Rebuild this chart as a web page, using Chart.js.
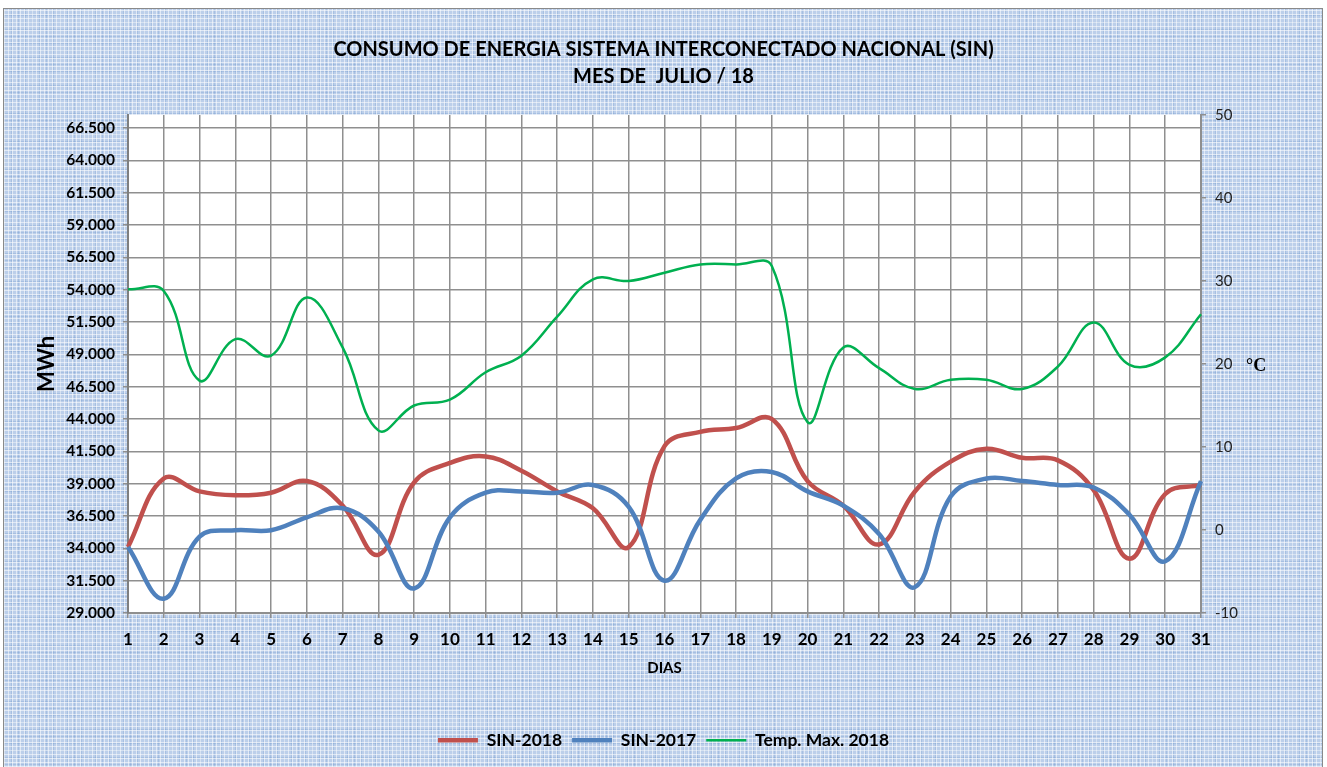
<!DOCTYPE html>
<html>
<head>
<meta charset="utf-8">
<script src="https://cdn.jsdelivr.net/npm/chart.js@4/dist/chart.umd.min.js"></script>
<style>
  html, body { margin:0; padding:0; background:#ffffff; }
  #frame {
    position:absolute; left:3px; top:8px; width:1318px; height:770px;
    border:1px solid #8a8a8a;
    background-color:#bccfea;
    background-image:
      repeating-linear-gradient(90deg, rgba(255,255,255,0.55) 0px, rgba(255,255,255,0.55) 1px, rgba(255,255,255,0) 1px, rgba(255,255,255,0) 4px),
      repeating-linear-gradient(0deg, rgba(255,255,255,0.55) 0px, rgba(255,255,255,0.55) 1px, rgba(255,255,255,0) 1px, rgba(255,255,255,0) 4px),
      repeating-linear-gradient(90deg, rgba(90,135,195,0.22) 0px, rgba(90,135,195,0.22) 1px, rgba(0,0,0,0) 1px, rgba(0,0,0,0) 7px),
      repeating-linear-gradient(0deg, rgba(90,135,195,0.22) 0px, rgba(90,135,195,0.22) 1px, rgba(0,0,0,0) 1px, rgba(0,0,0,0) 7px);
  }
  #wrap { position:absolute; left:0; top:0; width:1327px; height:767px; }
</style>
</head>
<body>
<div id="frame"></div>
<div id="wrap"><canvas id="c" width="1327" height="767"></canvas></div>
<script>
// ---- data ----
const days = ['1','2','3','4','5','6','7','8','9','10','11','12','13','14','15','16','17','18','19','20','21','22','23','24','25','26','27','28','29','30','31'];
const sin2018 = [34100, 39400, 38400, 38100, 38300, 39200, 37300, 33500, 39100, 40600, 41100, 40000, 38400, 37100, 34100, 41900, 43000, 43300, 44000, 39200, 37300, 34300, 38400, 40700, 41700, 41000, 40800, 38500, 33200, 38200, 38900];
const sin2017 = [34100, 30100, 34900, 35400, 35400, 36400, 37100, 35300, 30900, 36400, 38300, 38400, 38300, 38900, 37200, 31500, 36200, 39400, 39900, 38400, 37300, 35100, 31000, 38000, 39400, 39200, 38900, 38700, 36600, 33000, 39200];
const tempMax2018 = [29, 28.8, 18, 23, 21, 28, 22, 12, 15, 15.7, 19, 21, 25.7, 30.2, 30, 31, 32, 32, 31.8, 13, 22, 19.5, 17, 18.1, 18.1, 17, 19.7, 25, 19.9, 20.8, 26];
const mwhTicks = [29000, 31500, 34000, 36500, 39000, 41500, 44000, 46500, 49000, 51500, 54000, 56500, 59000, 61500, 64000, 66500];
const tempTicks = [-10, 0, 10, 20, 30, 40, 50];
const titleLines = ['CONSUMO DE ENERGIA SISTEMA INTERCONECTADO NACIONAL (SIN)', 'MES DE  JULIO / 18'];

const FONT = 'Lato, "Open Sans", "DejaVu Sans", sans-serif';
function fmt(v) { return String(v).replace(/\B(?=(\d{3})+(?!\d))/g, '.'); }

const plotBg = {
  id: 'plotBg',
  beforeDraw(chart) {
    const a = chart.chartArea, ctx = chart.ctx;
    ctx.save(); ctx.fillStyle = '#ffffff';
    ctx.fillRect(a.left, a.top, a.right - a.left, a.bottom - a.top);
    ctx.restore();
  },
  afterDraw(chart) {
    const a = chart.chartArea, ctx = chart.ctx;
    const yC = chart.scales.yT;
    ctx.save();
    ctx.fillStyle = '#000';
    ctx.font = 'bold 18px "Liberation Serif", serif';
    ctx.textBaseline = 'middle';
    ctx.textAlign = 'left';
    ctx.fillText('°C', a.right + 45, yC.getPixelForValue(20) + 2);
    ctx.restore();
  }
};

new Chart(document.getElementById('c'), {
  type: 'line',
  data: {
    labels: days,
    datasets: [
      { label: 'SIN-2018', data: sin2018, yAxisID: 'y', borderColor: '#c0504d', backgroundColor: '#c0504d', borderWidth: 4.5, pointRadius: 0, tension: 0.4, order: 3 },
      { label: 'SIN-2017', data: sin2017, yAxisID: 'y', borderColor: '#4f81bd', backgroundColor: '#4f81bd', borderWidth: 4.5, pointRadius: 0, tension: 0.4, order: 2 },
      { label: 'Temp. Max. 2018', data: tempMax2018, yAxisID: 'yT', borderColor: '#00b050', backgroundColor: '#00b050', borderWidth: 2.5, pointRadius: 0, tension: 0.4, order: 1 }
    ]
  },
  options: {
    responsive: false,
    animation: false,
    layout: { padding: { top: 0, left: 0, right: 0, bottom: 8 } },
    plugins: {
      title: {
        display: true, text: titleLines, color: '#000',
        font: { family: FONT, size: 20, weight: 'bold', lineHeight: 1.35 },
        padding: { top: 36.5, bottom: 24.5 }
      },
      legend: {
        position: 'bottom',
        labels: {
          usePointStyle: true, pointStyle: 'line', pointStyleWidth: 40,
          color: '#000', font: { family: FONT, size: 17.5, weight: 'bold' }, padding: 10,
          sort: (a, b) => a.datasetIndex - b.datasetIndex
        }
      },
      tooltip: { enabled: false }
    },
    scales: {
      x: {
        offset: false,
        grid: { color: '#8f8f8f', lineWidth: 1.5, tickLength: 5 },
        border: { color: '#8f8f8f', width: 2 },
        ticks: { color: '#000', font: { family: FONT, size: 17, weight: 'bold' }, padding: 11, maxRotation: 0, autoSkip: false },
        title: { display: true, text: 'DIAS', color: '#000', font: { family: FONT, size: 15, weight: 'bold' }, padding: { top: 0, bottom: 44 } },
        afterFit(scale) { const lh = scale.chart.legend ? scale.chart.legend.height : 38; scale.height = 767 - 8 - lh - 613; }
      },
      y: {
        position: 'left', min: 29000, max: 67500,
        afterBuildTicks(scale) { scale.ticks = mwhTicks.map(v => ({ value: v })); },
        grid: { color: '#8f8f8f', lineWidth: 1.5, tickLength: 5 },
        border: { color: '#7f7f7f', width: 2 },
        ticks: { color: '#000', font: { family: FONT, size: 15.5, weight: 'bold' }, padding: 8, callback: v => fmt(v) },
        title: { display: true, text: 'MWh', color: '#000', font: { family: FONT, size: 22, weight: 'bold' }, padding: { top: 33.8, bottom: 0 } },
        afterFit(scale) { scale.width = 128; }
      },
      yT: {
        position: 'right', min: -10, max: 50,
        afterBuildTicks(scale) { scale.ticks = tempTicks.map(v => ({ value: v })); },
        grid: { drawOnChartArea: false, color: '#8f8f8f', lineWidth: 1.5, tickLength: 5 },
        border: { color: '#8f8f8f', width: 2 },
        ticks: { color: '#222', font: { family: FONT, size: 15 }, padding: 9 },
        afterFit(scale) { scale.width = 1327 - 1201; }
      }
    }
  },
  plugins: [plotBg]
});
</script>
</body>
</html>
